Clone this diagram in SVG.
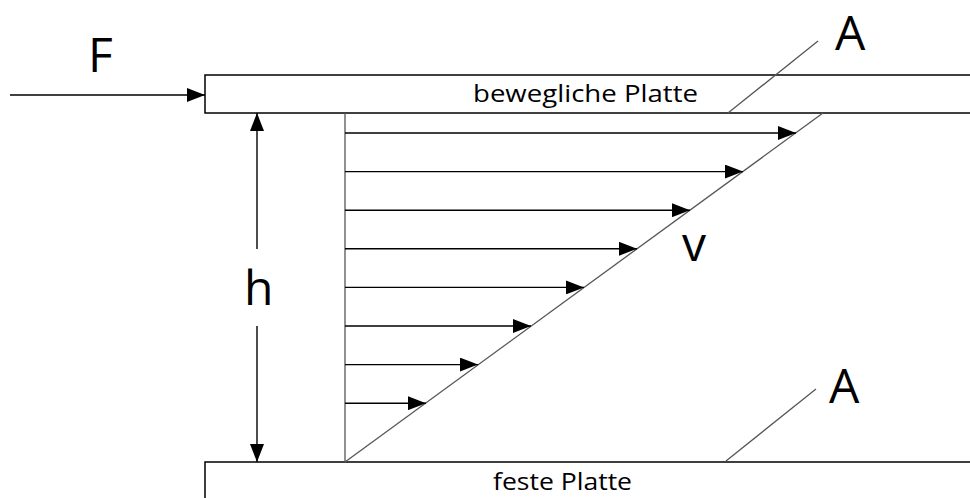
<svg xmlns="http://www.w3.org/2000/svg" width="970" height="498" viewBox="0 0 970 498">
<style>
.plate{fill:#fff;stroke:#000;stroke-width:1.5}
.ln{stroke:#000;stroke-width:1.4;fill:none}
.gr{stroke:#555;stroke-width:1.3;fill:none}
.big{font-family:"Open Sans","Noto Sans",sans-serif;font-size:48px;fill:#000}
.lbl{font-family:"Open Sans","Noto Sans",sans-serif;font-size:24px;fill:#000}
</style>
<defs>
<marker id="ah" markerUnits="userSpaceOnUse" markerWidth="18" markerHeight="14" refX="18" refY="7" orient="auto">
<path d="M0,0 L18,7 L0,14 z" fill="#000"/>
</marker>
</defs>
<rect width="970" height="498" fill="#fff"/>
<g id="top-plate">
<rect class="plate" x="205" y="75" width="800" height="38"/>
<text class="lbl" x="473" y="102" textLength="225" lengthAdjust="spacingAndGlyphs">bewegliche Platte</text>
</g>
<g id="bottom-plate">
<rect class="plate" x="205" y="462" width="800" height="60"/>
<text class="lbl" x="493" y="490" textLength="139" lengthAdjust="spacingAndGlyphs">feste Platte</text>
</g>
<g id="profile">
<line class="gr" x1="345" y1="113" x2="345" y2="462" stroke="#888"/>
<line class="gr" x1="345" y1="462" x2="823" y2="113"/>
</g>
<g id="connectors">
<line class="ln" x1="10" y1="95" x2="205" y2="95" marker-end="url(#ah)"/>
<line class="ln" x1="257" y1="249" x2="257" y2="113" marker-end="url(#ah)"/>
<line class="ln" x1="257" y1="326" x2="257" y2="462" marker-end="url(#ah)"/>
<line class="ln" x1="345" y1="133" x2="796" y2="133" marker-end="url(#ah)"/>
<line class="ln" x1="345" y1="171.6" x2="743" y2="171.6" marker-end="url(#ah)"/>
<line class="ln" x1="345" y1="210.2" x2="690" y2="210.2" marker-end="url(#ah)"/>
<line class="ln" x1="345" y1="248.8" x2="637" y2="248.8" marker-end="url(#ah)"/>
<line class="ln" x1="345" y1="287.4" x2="584" y2="287.4" marker-end="url(#ah)"/>
<line class="ln" x1="345" y1="326" x2="531" y2="326" marker-end="url(#ah)"/>
<line class="ln" x1="345" y1="364.6" x2="478" y2="364.6" marker-end="url(#ah)"/>
<line class="ln" x1="345" y1="403.2" x2="426" y2="403.2" marker-end="url(#ah)"/>
<line class="gr" x1="728" y1="113" x2="818" y2="41"/>
<line class="gr" x1="726" y1="461" x2="816" y2="389"/>
</g>
<g id="labels">
<text class="big" x="88" y="72">F</text>
<text class="big" x="244" y="305">h</text>
<text class="big" x="682" y="261">v</text>
<text class="big" x="835" y="50" font-size="46">A</text>
<text class="big" x="829" y="403">A</text>
</g>
</svg>
